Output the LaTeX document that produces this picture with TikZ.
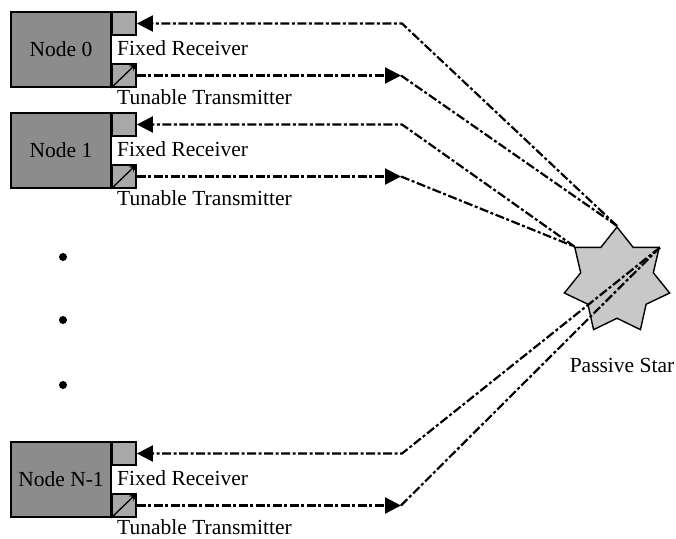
\documentclass[tikz,border=0pt]{standalone}
\usepackage{fontspec}
\setmainfont{Liberation Serif}
\usetikzlibrary{shapes.geometric,arrows.meta}
\definecolor{boxgray}{RGB}{140,140,140}
\definecolor{smallgray}{RGB}{168,168,168}
\definecolor{stargray}{RGB}{200,200,200}
\begin{document}
\begin{tikzpicture}[x=1pt,y=-1pt,
  mainbox/.style={draw, line width=1.8pt, fill=boxgray, minimum width=100pt, minimum height=75pt, inner sep=0pt, font=\fontsize{21.5}{24}\selectfont},
  smallbox/.style={draw, line width=1.8pt, fill=smallgray, minimum width=24pt, minimum height=23pt, inner sep=0pt},
  lbl/.style={inner sep=0pt, font=\fontsize{21.5}{24}\selectfont},
  dotnode/.style={circle, fill=black, inner sep=0pt, minimum size=8pt},
  starnode/.style={star, star points=7, star point ratio=1.45, minimum size=108pt, inner sep=0pt, draw, line width=1.4pt, fill=stargray},
  sigline/.style={line width=2.2pt, dash pattern=on 9pt off 2.5pt on 3pt off 2.5pt},
  tip/.style={-{Triangle[length=16pt,width=16pt]}},
  tunarrow/.style={line width=1.3pt, -{Stealth[length=8pt,width=7pt]}}
]
\useasboundingbox (0,0) rectangle (676,538);

% star
\node[starnode] (star) at (617,281) {};
\node[lbl, anchor=base] (ps) at (622,372) {Passive Star};

% Node 0
\node[mainbox] (n0) at (61,49.5) {Node 0};
\node[smallbox] (r0) at (124,23.5) {};
\node[smallbox] (t0) at (124,75.5) {};
\node[lbl, anchor=base west] (fr0) at (117,55) {Fixed Receiver};
\node[lbl, anchor=base west] (tt0) at (117,104) {Tunable Transmitter};
\coordinate (b0r) at (402,23.5);
\coordinate (b0t) at (401,75.5);

% Node 1
\node[mainbox] (n1) at (61,150.5) {Node 1};
\node[smallbox] (r1) at (124,124.5) {};
\node[smallbox] (t1) at (124,176.5) {};
\node[lbl, anchor=base west] (fr1) at (117,156) {Fixed Receiver};
\node[lbl, anchor=base west] (tt1) at (117,205) {Tunable Transmitter};
\coordinate (b1r) at (402,124.5);
\coordinate (b1t) at (401,176.5);

% Node N-1
\node[mainbox] (nN) at (61,479.5) {Node N-1};
\node[smallbox] (rN) at (124,453.5) {};
\node[smallbox] (tN) at (124,505.5) {};
\node[lbl, anchor=base west] (frN) at (117,485) {Fixed Receiver};
\node[lbl, anchor=base west] (ttN) at (117,534) {Tunable Transmitter};
\coordinate (bNr) at (402,453.5);
\coordinate (bNt) at (401,505.5);

% dots
\node[dotnode] (d1) at (63,257) {};
\node[dotnode] (d2) at (63,320) {};
\node[dotnode] (d3) at (63,385) {};

% tunable arrows inside boxes
\foreach \t in {t0,t1,tN}{
  \draw[tunarrow] (\t.south west) -- (\t.north east);
}

% connectors node 0 -> star top
\draw[sigline, tip] (star.90) -- (b0r) -- (r0.east);
\draw[sigline, tip] (t0.east) -- (b0t);
\draw[sigline] (b0t) -- (star.90);

% node 1 -> star upper-left
\draw[sigline, tip] (star.141.43) -- (b1r) -- (r1.east);
\draw[sigline, tip] (t1.east) -- (b1t);
\draw[sigline] (b1t) -- (star.141.43);

% node N-1 -> star upper-right
\draw[sigline, tip] (star.38.57) -- (bNr) -- (rN.east);
\draw[sigline, tip] (tN.east) -- (bNt);
\draw[sigline] (bNt) -- (star.38.57);
\end{tikzpicture}
\end{document}
